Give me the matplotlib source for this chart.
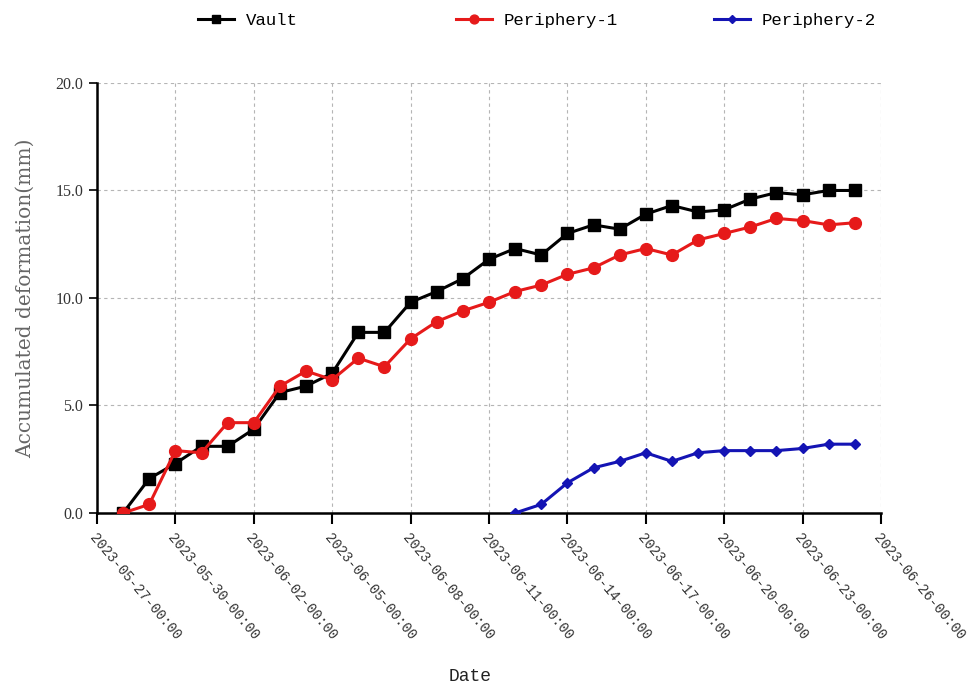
import numpy as np
import pandas as pd
import matplotlib
matplotlib.use('Agg')
import matplotlib.pyplot as plt

# data
dates = pd.date_range('2023-05-28', '2023-06-25', freq='D')
vault = [0.0, 1.6, 2.3, 3.1, 3.1, 3.9, 5.6, 5.9, 6.5, 8.4, 8.4, 9.8, 10.3, 10.9, 11.8,
         12.3, 12.0, 13.0, 13.4, 13.2, 13.9, 14.3, 14.0, 14.1, 14.6, 14.9, 14.8, 15.0, 15.0]
periphery1 = [0.0, 0.4, 2.9, 2.8, 4.2, 4.2, 5.9, 6.6, 6.2, 7.2, 6.8, 8.1, 8.9, 9.4, 9.8,
              10.3, 10.6, 11.1, 11.4, 12.0, 12.3, 12.0, 12.7, 13.0, 13.3, 13.7, 13.6, 13.4, 13.5]
dates2 = pd.date_range('2023-06-12', '2023-06-25', freq='D')
periphery2 = [0.0, 0.4, 1.4, 2.1, 2.4, 2.8, 2.4, 2.8, 2.9, 2.9, 2.9, 3.0, 3.2, 3.2]

fig = plt.figure(figsize=(9.73, 6.88), dpi=100)
ax = fig.add_axes([0.0997, 0.2544, 0.8057, 0.625])

l1, = ax.plot(dates, vault, color='black', marker='s', markersize=8.5, linewidth=2.2, label='Vault', zorder=3)
l2, = ax.plot(dates, periphery1, color='#e61a1a', marker='o', markersize=8.5, linewidth=2.2, label='Periphery-1', zorder=4)
l3, = ax.plot(dates2, periphery2, color='#1414b4', marker='D', markersize=5, linewidth=2.2, label='Periphery-2', zorder=5)

ax.set_xlim(pd.Timestamp('2023-05-27'), pd.Timestamp('2023-06-26'))
ax.set_ylim(0, 20)
ax.set_yticks([0, 5, 10, 15, 20])
ax.set_yticklabels(['0.0', '5.0', '10.0', '15.0', '20.0'])
ticks = pd.date_range('2023-05-27', '2023-06-26', freq='3D')
ax.set_xticks(ticks)
ax.set_xticklabels([d.strftime('%Y-%m-%d-%H:%M') for d in ticks],
                   rotation=-50, ha='left', va='top', rotation_mode='anchor',
                   family='Liberation Mono', fontsize=10, color='#333333')
for lbl in ax.get_yticklabels():
    lbl.set_family('Liberation Serif')
    lbl.set_fontsize(11.5)
    lbl.set_color('#333333')

ax.grid(True, color='#b5b5b5', linestyle=(0, (3, 3)), linewidth=0.8)
ax.set_axisbelow(True)
ax.spines['top'].set_visible(False)
ax.spines['right'].set_visible(False)
ax.spines['left'].set_linewidth(1.8)
ax.spines['bottom'].set_linewidth(1.8)
ax.tick_params(axis='x', direction='out', length=8, width=1.5, pad=5)
ax.tick_params(axis='y', direction='out', length=6, width=1.2, pad=4)

ax.set_ylabel('Accumulated deformation(mm)', family='DejaVu Serif', fontsize=14.5,
              color='#666666', labelpad=15)
fig.text(0.483, 0.01, 'Date', family='Liberation Mono', fontsize=13, color='#222222', ha='center')

# one legend entry per position, spaced as in the reference
legend_x = [198, 456, 714]
for line, x in zip([l1, l2, l3], legend_x):
    fig.legend(handles=[line], loc='center left', bbox_to_anchor=(x / 973, 1 - 20 / 688),
               frameon=False, prop={'family': 'Liberation Mono', 'size': 12.5},
               handlelength=2.05, handletextpad=0.7, borderpad=0, borderaxespad=0,
               markerscale=0.75)

fig.savefig('out.png', dpi=100)
